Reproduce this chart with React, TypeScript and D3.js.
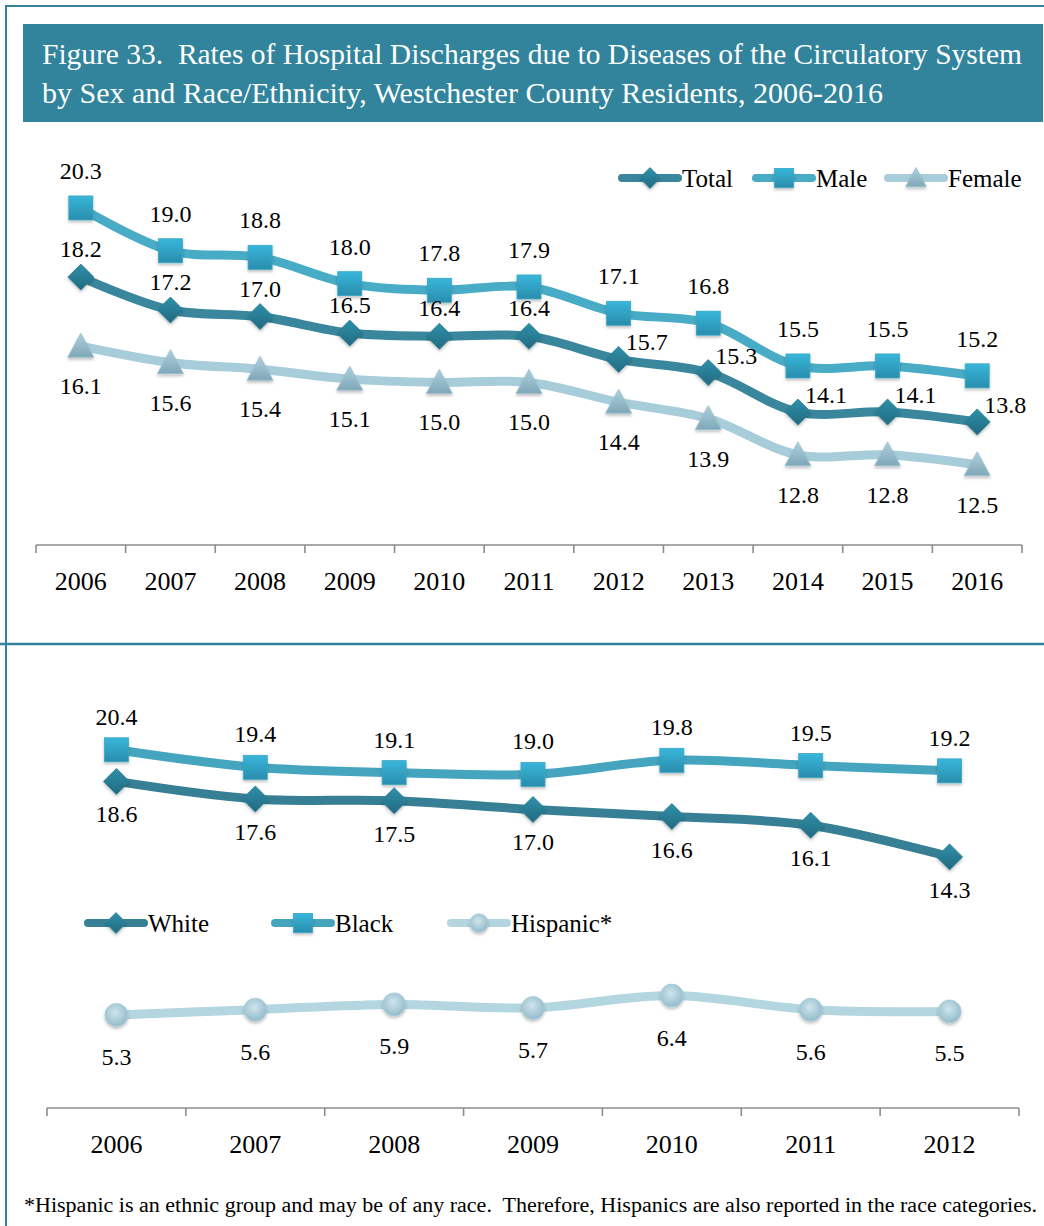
import React from "react";
import * as d3 from "d3";

// ---------- data ----------
const yearsTop = ["2006", "2007", "2008", "2009", "2010", "2011", "2012", "2013", "2014", "2015", "2016"];
const totalValues = [18.2, 17.2, 17.0, 16.5, 16.4, 16.4, 15.7, 15.3, 14.1, 14.1, 13.8];
const maleValues = [20.3, 19.0, 18.8, 18.0, 17.8, 17.9, 17.1, 16.8, 15.5, 15.5, 15.2];
const femaleValues = [16.1, 15.6, 15.4, 15.1, 15.0, 15.0, 14.4, 13.9, 12.8, 12.8, 12.5];
const totalLabelPlacement = ["above", "above", "above", "above", "above", "above", "right", "right", "right", "right", "right"];

const yearsBottom = ["2006", "2007", "2008", "2009", "2010", "2011", "2012"];
const whiteValues = [18.6, 17.6, 17.5, 17.0, 16.6, 16.1, 14.3];
const blackValues = [20.4, 19.4, 19.1, 19.0, 19.8, 19.5, 19.2];
const hispanicValues = [5.3, 5.6, 5.9, 5.7, 6.4, 5.6, 5.5];

const titleLines = [
  "Figure 33.  Rates of Hospital Discharges due to Diseases of the Circulatory System",
  "by Sex and Race/Ethnicity, Westchester County Residents, 2006-2016",
];
const footnote =
  "*Hispanic is an ethnic group and may be of any race.  Therefore, Hispanics are also reported in the race categories.";

// ---------- styles ----------
const FONT = "'Liberation Serif', 'DejaVu Serif', serif";
const TEAL = "#31849B";
const C = {
  total: "#3A879D",
  male: "#49ACC6",
  female: "#A7CDDA",
  white: "#377F95",
  black: "#45A5BF",
  hispanic: "#B4D6E1",
};

type MarkerKind = "diamond" | "square" | "triangle" | "circle";

function Marker({ kind, x, y, k = 1 }: { kind: MarkerKind; x: number; y: number; k?: number }) {
  const f = "url(#shadow)";
  if (kind === "diamond") {
    const r = 13 * k;
    return (
      <path
        d={`M${x},${y - r}L${x + r},${y}L${x},${y + r}L${x - r},${y}Z`}
        fill="url(#gDiamond)"
        stroke="#2C7F96"
        strokeWidth={0.8}
        filter={f}
      />
    );
  }
  if (kind === "square") {
    const s = 24 * k;
    return (
      <rect x={x - s / 2} y={y - s / 2} width={s} height={s} fill="url(#gSquare)" stroke="#3AA7C6" strokeWidth={0.8} filter={f} />
    );
  }
  if (kind === "triangle") {
    const w = 26 * k,
      h = 22 * k;
    return (
      <path
        d={`M${x},${y - h / 2 - 2 * k}L${x + w / 2},${y + h / 2}L${x - w / 2},${y + h / 2}Z`}
        fill="url(#gTriangle)"
        stroke="#9BC2D1"
        strokeWidth={0.8}
        filter={f}
      />
    );
  }
  return <circle cx={x} cy={y} r={11.5 * k} fill="url(#gCircle)" stroke="#A9CDDA" strokeWidth={0.8} filter={f} />;
}

type Series = {
  values: number[];
  color: string;
  marker: MarkerKind;
  labelDy: number;
  placement?: string[];
};

function LineChart({
  cats,
  series,
  x0,
  x1,
  axisY,
  yDomain,
  yRange,
}: {
  cats: string[];
  series: Series[];
  x0: number;
  x1: number;
  axisY: number;
  yDomain: [number, number];
  yRange: [number, number];
}) {
  const x = d3.scaleBand<string>().domain(cats).range([x0, x1]).padding(0);
  const y = d3.scaleLinear().domain(yDomain).range(yRange);
  const cx = (c: string) => (x(c) as number) + x.bandwidth() / 2;
  const line = d3
    .line<number>()
    .x((_, i) => cx(cats[i]))
    .y((v) => y(v))
    .curve(d3.curveCatmullRom.alpha(0.5));
  const ticks = cats.map((c) => x(c) as number).concat([x1]);
  return (
    <g>
      <line x1={x0} x2={x1} y1={axisY} y2={axisY} stroke="#8C8C8C" strokeWidth={1.6} />
      {ticks.map((t, i) => (
        <line key={i} x1={t} x2={t} y1={axisY} y2={axisY + 8} stroke="#8C8C8C" strokeWidth={1.6} />
      ))}
      {cats.map((c) => (
        <text key={c} x={cx(c)} y={axisY + 45} textAnchor="middle" fontFamily={FONT} fontSize={26} fill="#000">
          {c}
        </text>
      ))}
      {series.map((s, si) => (
        <path
          key={"l" + si}
          d={line(s.values) || ""}
          fill="none"
          stroke={s.color}
          strokeWidth={9}
          strokeLinejoin="round"
          strokeLinecap="round"
        />
      ))}
      {series.map((s, si) =>
        s.values.map((v, i) => <Marker key={"m" + si + "-" + i} kind={s.marker} x={cx(cats[i])} y={y(v)} />)
      )}
      {series.map((s, si) =>
        s.values.map((v, i) => {
          const px = cx(cats[i]);
          const py = y(v);
          const right = s.placement && s.placement[i] === "right";
          return (
            <text
              key={"t" + si + "-" + i}
              x={right ? px + 7 : px}
              y={right ? py - 9 : py + s.labelDy}
              textAnchor={right ? "start" : "middle"}
              fontFamily={FONT}
              fontSize={24}
              fill="#000"
            >
              {v.toFixed(1)}
            </text>
          );
        })
      )}
    </g>
  );
}

function LegendItem({ x, y, color, kind, label }: { x: number; y: number; color: string; kind: MarkerKind; label: string }) {
  return (
    <g>
      <line x1={x} x2={x + 56} y1={y} y2={y} stroke={color} strokeWidth={8} strokeLinecap="round" />
      <Marker kind={kind} x={x + 28} y={y} k={0.8} />
      <text x={x + 60} y={y + 9} fontFamily={FONT} fontSize={25} fill="#000">
        {label}
      </text>
    </g>
  );
}

export default function App() {
  return (
    <svg
      width={1044}
      height={1226}
      style={{ position: "absolute", left: 0, top: 0, background: "#fff" }}
      xmlns="http://www.w3.org/2000/svg"
    >
      <defs>
        <linearGradient id="gDiamond" x1="0" y1="0" x2="0" y2="1">
          <stop offset="0" stopColor="#2F90A9" />
          <stop offset="1" stopColor="#226A80" />
        </linearGradient>
        <linearGradient id="gSquare" x1="0" y1="0" x2="0" y2="1">
          <stop offset="0" stopColor="#38B6DA" />
          <stop offset="1" stopColor="#2A8DAD" />
        </linearGradient>
        <linearGradient id="gTriangle" x1="0" y1="0" x2="0" y2="1">
          <stop offset="0" stopColor="#AED0DD" />
          <stop offset="1" stopColor="#7FA7B8" />
        </linearGradient>
        <radialGradient id="gCircle" cx="0.45" cy="0.4" r="0.6">
          <stop offset="0" stopColor="#CFE5EE" />
          <stop offset="1" stopColor="#93BBCA" />
        </radialGradient>
        <filter id="shadow" x="-30%" y="-30%" width="160%" height="170%">
          <feDropShadow dx="0" dy="2" stdDeviation="1.5" floodColor="#000" floodOpacity="0.25" />
        </filter>
      </defs>

      {/* frame */}
      <line x1={6} x2={1044} y1={6} y2={6} stroke={TEAL} strokeWidth={2} />
      <line x1={6} x2={6} y1={5} y2={1226} stroke={TEAL} strokeWidth={2} />
      <line x1={0} x2={1044} y1={644} y2={644} stroke={TEAL} strokeWidth={2.5} />

      {/* title */}
      <rect x={23} y={24} width={1020} height={98} fill={TEAL} />
      <text
        x={42}
        y={64}
        fontFamily={FONT}
        fontSize={29}
        fill="#fff"
        textLength={980}
        lengthAdjust="spacingAndGlyphs"
        style={{ whiteSpace: "pre" }}
      >
        {titleLines[0]}
      </text>
      <text
        x={42}
        y={103}
        fontFamily={FONT}
        fontSize={29}
        fill="#fff"
        textLength={841}
        lengthAdjust="spacingAndGlyphs"
        style={{ whiteSpace: "pre" }}
      >
        {titleLines[1]}
      </text>

      {/* top legend */}
      <LegendItem x={622} y={178} color={C.total} kind="diamond" label="Total" />
      <LegendItem x={756} y={178} color={C.male} kind="square" label="Male" />
      <LegendItem x={888} y={178} color={C.female} kind="triangle" label="Female" />

      <LineChart
        cats={yearsTop}
        x0={36}
        x1={1022}
        axisY={545}
        yDomain={[10, 22]}
        yRange={[547, 152]}
        series={[
          { values: femaleValues, color: C.female, marker: "triangle", labelDy: 48 },
          { values: maleValues, color: C.male, marker: "square", labelDy: -29 },
          { values: totalValues, color: C.total, marker: "diamond", labelDy: -20, placement: totalLabelPlacement },
        ]}
      />

      {/* bottom legend */}
      <LegendItem x={88} y={923} color={C.white} kind="diamond" label="White" />
      <LegendItem x={275} y={923} color={C.black} kind="square" label="Black" />
      <LegendItem x={451} y={923} color={C.hispanic} kind="circle" label="Hispanic*" />

      <LineChart
        cats={yearsBottom}
        x0={47}
        x1={1019}
        axisY={1108}
        yDomain={[0, 25]}
        yRange={[1108, 669]}
        series={[
          { values: hispanicValues, color: C.hispanic, marker: "circle", labelDy: 50 },
          { values: whiteValues, color: C.white, marker: "diamond", labelDy: 41 },
          { values: blackValues, color: C.black, marker: "square", labelDy: -25 },
        ]}
      />

      {/* footnote */}
      <text
        x={24}
        y={1212}
        fontFamily={FONT}
        fontSize={20}
        fill="#000"
        textLength={1013}
        lengthAdjust="spacingAndGlyphs"
        style={{ whiteSpace: "pre" }}
      >
        {footnote}
      </text>
    </svg>
  );
}
